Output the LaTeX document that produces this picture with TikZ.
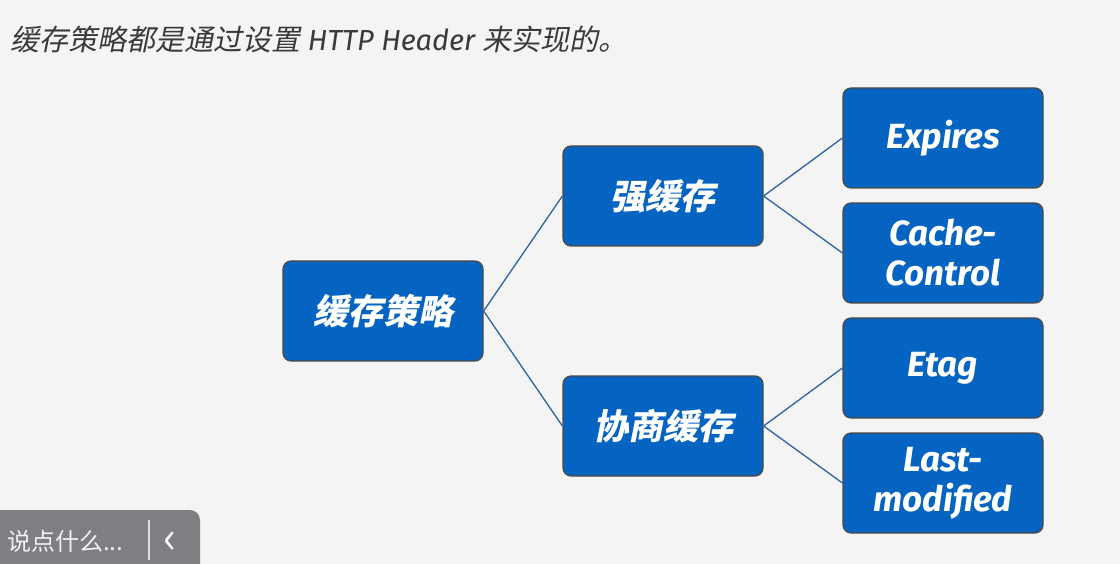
\documentclass[tikz,border=0pt]{standalone}
\usepackage{fontspec}
\usepackage{xcolor}
\setmainfont{Fira Sans}
\newfontfamily\cjk{Noto Sans CJK SC}[FakeSlant=0.2]
\newfontfamily\cjkup{Noto Sans CJK SC}
\definecolor{bg}{HTML}{F4F4F4}
\definecolor{boxblue}{HTML}{0563C1}
\definecolor{boxrim}{HTML}{4E4A3E}
\definecolor{linkblue}{HTML}{2B63A6}
\definecolor{titlegray}{HTML}{3A3A3A}
\definecolor{bargray}{HTML}{7E7F83}
\newcommand{\zh}[1]{{\cjk\bfseries #1}}
\newcommand{\en}[1]{{\bfseries\itshape #1}}

\begin{document}
\begin{tikzpicture}[x=1pt,y=-1pt,
	box/.style={draw=boxrim, line width=1.2pt, fill=boxblue, rounded corners=8pt,
		minimum width=200pt, minimum height=100pt, text=white, align=center,
		font=\fontsize{35}{40}\selectfont, inner sep=0pt},
	link/.style={draw=linkblue, line width=1.3pt}]
		\fill[bg] (0,0) rectangle (1120,564);
		\useasboundingbox (0,0) rectangle (1120,564);
		% title line
		\node[anchor=base west, inner sep=0pt, text=titlegray, font=\fontsize{29}{34}\selectfont] (title) at (10,51)
			{{\cjk 缓存策略都是通过设置} {\itshape HTTP Header} {\cjk 来实现的。}};
		% tree
		\node[box] (root) at (383,311) {\zh{缓存策略}};
		\node[box] (strong) at (663,196) {\zh{强缓存}};
		\node[box] (nego) at (663,426) {\zh{协商缓存}};
		\node[box] (expires) at (943,138) {\en{Expires}};
		\node[box] (cachectl) at (943,253) {\en{Cache-}\\\en{Control}};
		\node[box] (etag) at (943,368) {\en{Etag}};
		\node[box] (lastmod) at (943,483) {\en{Last-}\\\en{modified}};
		\draw[link] (root.east) -- (strong.west);
		\draw[link] (root.east) -- (nego.west);
		\draw[link] (strong.east) -- (expires.west);
		\draw[link] (strong.east) -- (cachectl.west);
		\draw[link] (nego.east) -- (etag.west);
		\draw[link] (nego.east) -- (lastmod.west);
		% comment bar
		\fill[bargray] (0,510) -- (190,510) arc[start angle=90, end angle=0, radius=10pt] -- (200,564) -- (0,564) -- cycle;
		\node[anchor=west, inner sep=0pt, text=white!88!gray, font=\fontsize{24}{28}\selectfont] (say) at (7,541) {\cjkup 说点什么...};
		\coordinate (septop) at (149,520);
		\coordinate (sepbot) at (149,560);
		\draw[white!75!gray, line width=1.2pt] (septop) -- (sepbot);
		\node[text=white, font=\fontsize{44}{46}\selectfont] (back) at (170,543) {\cjkup ‹};
	\end{tikzpicture}
\end{document}
